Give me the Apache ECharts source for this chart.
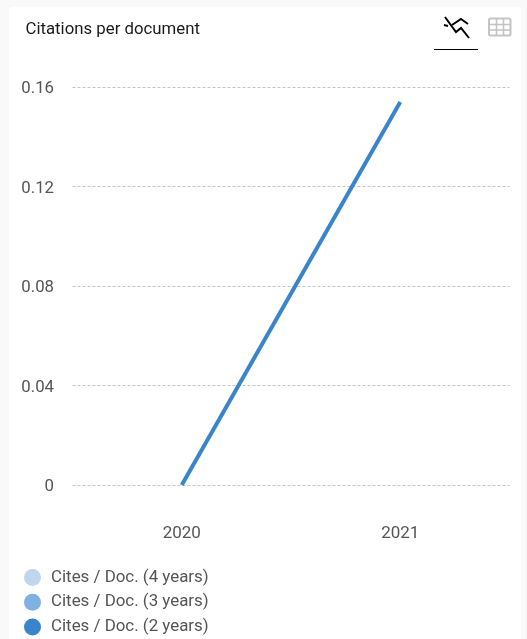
<!DOCTYPE html>
<html>
<head>
<meta charset="utf-8">
<style>html,body{margin:0;padding:0;background:#f9f9f9;overflow:hidden}#c{width:527px;height:639px}</style>
<script src="https://cdn.jsdelivr.net/npm/echarts@6/dist/echarts.min.js"></script>
</head>
<body>
<div id="c"></div>
<script>
const years = ['2020', '2021'];
const cites4 = [null, null];
const cites3 = [null, null];
const cites2 = [0, 0.154];
const yTicks = [0, 0.04, 0.08, 0.12, 0.16];
const title = 'Citations per document';
const names = ['Cites / Doc. (4 years)', 'Cites / Doc. (3 years)', 'Cites / Doc. (2 years)'];
const colors = ['#bdd7ee', '#7fb2e0', '#3a85c9'];

const chart = echarts.init(document.getElementById('c'), null, {renderer: 'canvas'});
const mk = (i, d) => ({
  name: names[i], type: 'line', data: d, symbol: 'none', silent: true,
  lineStyle: {width: 4, color: colors[i]}, itemStyle: {color: colors[i]}
});
chart.setOption({
  animation: false,
  backgroundColor: '#f9f9f9',
  graphic: [
    {type: 'rect', z: -10, shape: {x: 9, y: 7, width: 512, height: 640, r: 3}, style: {fill: '#ffffff'}},
    {type: 'text', left: 25.5, top: 21, style: {text: title, fill: '#1a1a1a', font: '400 16.8px Roboto'}},
    // chart-mode icon
    {type: 'polyline', shape: {points: [[445, 17], [456, 32], [461, 28], [469, 38]]}, style: {stroke: '#000', fill: 'none', lineWidth: 2}},
    {type: 'polyline', shape: {points: [[444, 25], [448, 26]]}, style: {stroke: '#000', fill: 'none', lineWidth: 2}},
    {type: 'polyline', shape: {points: [[452, 25], [461, 19], [468, 24]]}, style: {stroke: '#000', fill: 'none', lineWidth: 2}},
    {type: 'line', shape: {x1: 434, y1: 49.5, x2: 478, y2: 49.5}, style: {stroke: '#000', lineWidth: 1}},
    // table-mode icon
    {type: 'rect', shape: {x: 489, y: 18.5, width: 21.5, height: 17, r: 1.5}, style: {stroke: '#c4c4c4', fill: 'none', lineWidth: 2}},
    {type: 'line', shape: {x1: 489, y1: 24.5, x2: 510.5, y2: 24.5}, style: {stroke: '#c4c4c4', lineWidth: 1.6}},
    {type: 'line', shape: {x1: 489, y1: 30, x2: 510.5, y2: 30}, style: {stroke: '#c4c4c4', lineWidth: 1.6}},
    {type: 'line', shape: {x1: 496.5, y1: 18.5, x2: 496.5, y2: 35.5}, style: {stroke: '#c4c4c4', lineWidth: 1.6}},
    {type: 'line', shape: {x1: 503.5, y1: 18.5, x2: 503.5, y2: 35.5}, style: {stroke: '#c4c4c4', lineWidth: 1.6}}
  ],
  grid: {left: 72.5, right: 17.5, top: 87, height: 398, containLabel: false},
  xAxis: {
    type: 'category', data: years, boundaryGap: true,
    axisLine: {show: false}, axisTick: {show: false}, splitLine: {show: false},
    axisLabel: {color: '#555', fontSize: 17, fontFamily: 'Roboto', margin: 40}
  },
  yAxis: {
    type: 'value', min: yTicks[0], max: yTicks[yTicks.length - 1], interval: yTicks[1],
    axisLine: {show: false}, axisTick: {show: false},
    splitLine: {lineStyle: {color: '#c4c4c4', type: [3, 2], width: 1}},
    axisLabel: {
      margin: 18.5,
      formatter: v => '{t|' + String(+v.toFixed(2)) + '}',
      rich: {t: {color: '#555', fontSize: 16.8, fontFamily: 'Roboto', padding: [4, 0, 0, 0]}}
    }
  },
  legend: {
    orient: 'vertical', left: 24, top: 569, icon: 'circle', itemWidth: 17, itemHeight: 17, itemGap: 7.7,
    selectedMode: false, padding: 0, data: names,
    textStyle: {color: '#555', fontSize: 16.9, fontFamily: 'Roboto', padding: [0, 0, 0, 5]}
  },
  series: [mk(0, cites4), mk(1, cites3), mk(2, cites2)]
});
</script>
</body>
</html>
